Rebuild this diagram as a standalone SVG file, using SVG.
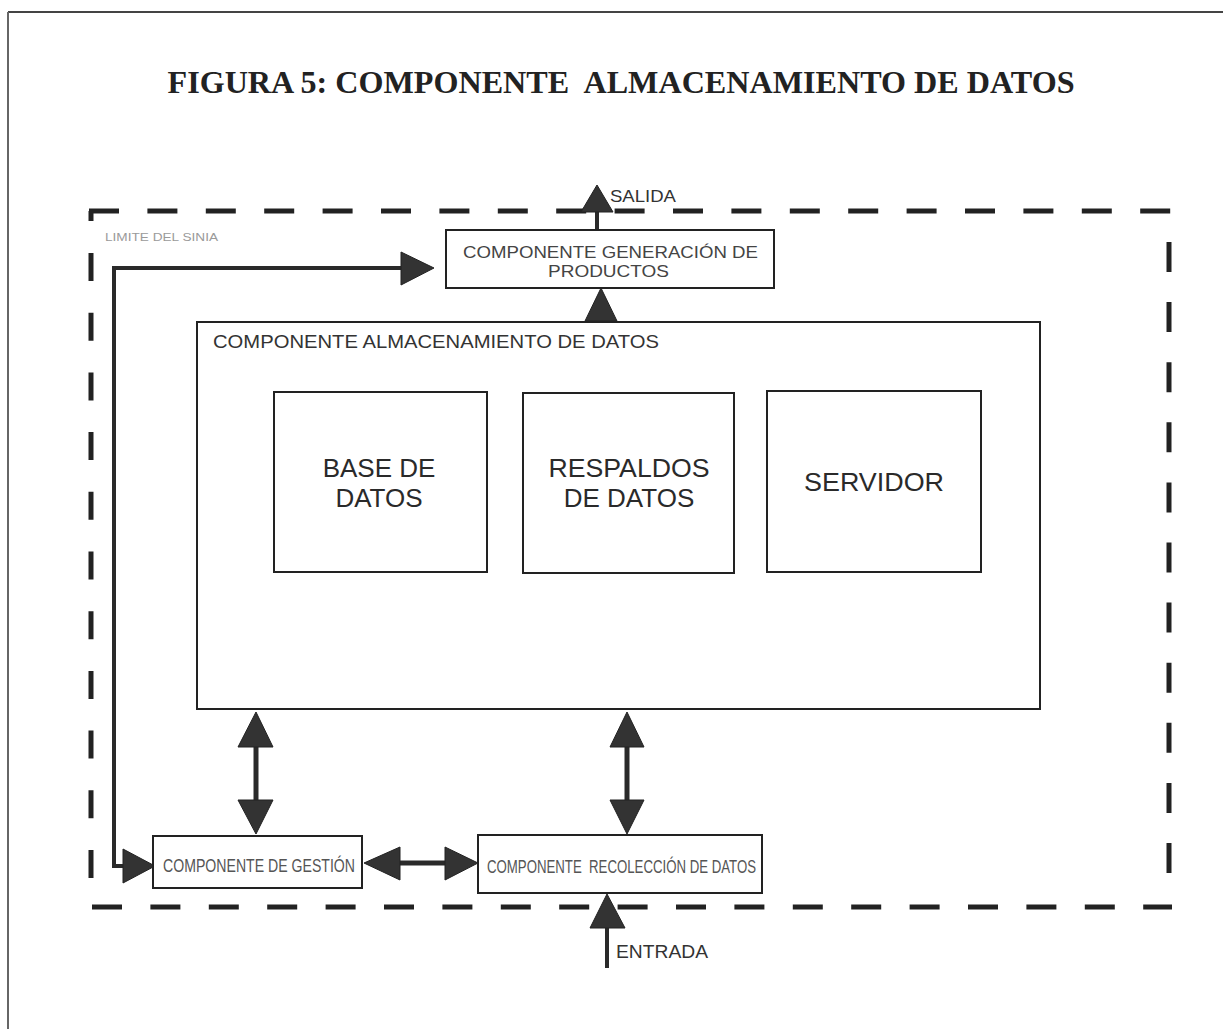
<svg xmlns="http://www.w3.org/2000/svg" width="1223" height="1029" viewBox="0 0 1223 1029">
<style>
.box{fill:#fff;stroke:#222;stroke-width:2}
.lbl{font-family:"Liberation Sans",Arial,sans-serif;fill:#333}
.big{font-family:"Liberation Sans",Arial,sans-serif;fill:#2a2a2a;font-size:26px;text-anchor:middle}
.dash{fill:none;stroke:#222;stroke-width:5}
.wire{fill:none;stroke:#2a2a2a}
.head{fill:#333;stroke:#222;stroke-width:1}
</style>
<rect width="1223" height="1029" fill="#fff"/>
<g id="frame">
<line x1="8" y1="12" x2="1223" y2="12" stroke="#444" stroke-width="2"/>
<line x1="8" y1="12" x2="8" y2="1029" stroke="#666" stroke-width="2"/>
</g>
<text x="621" y="93" text-anchor="middle" font-family="'Liberation Serif','Times New Roman',serif" font-weight="bold" font-size="32" fill="#222" textLength="907" lengthAdjust="spacingAndGlyphs" xml:space="preserve">FIGURA 5: COMPONENTE  ALMACENAMIENTO DE DATOS</text>
<g id="limite">
<path class="dash" d="M89,211 H1172" stroke-dasharray="30 28.4"/>
<path class="dash" d="M91,211 V221"/>
<path class="dash" d="M92,907 H1172" stroke-dasharray="30 28.4"/>
<path class="dash" d="M91,253 V880" stroke-dasharray="28 31.7"/>
<path class="dash" d="M1169,242 V874" stroke-dasharray="30 30.1"/>
<text class="lbl" x="105" y="241" font-size="10" fill="#999" style="fill:#9a9a9a" textLength="113" lengthAdjust="spacingAndGlyphs">LIMITE DEL SINIA</text>
</g>
<g id="connectors">
<line class="wire" x1="597" y1="210" x2="597" y2="231" stroke-width="4"/>
<polygon class="head" points="581,212 597,185 613,212"/>
<polygon class="head" points="585,321 601,288 617,321"/>
<polyline class="wire" points="125,866 114,866 114,268 403,268" stroke-width="4"/>
<polygon class="head" points="401,252 434,268 401,285"/>
<polygon class="head" points="123,849 155,866 123,883"/>
<line class="wire" x1="398" y1="863" x2="447" y2="863" stroke-width="5"/>
<polygon class="head" points="400,847 364,863 400,880"/>
<polygon class="head" points="445,847 478,863 445,880"/>
<line class="wire" x1="256" y1="745" x2="256" y2="802" stroke-width="5"/>
<polygon class="head" points="238,747 256,712 273,747"/>
<polygon class="head" points="238,800 256,834 273,800"/>
<line class="wire" x1="627" y1="745" x2="627" y2="802" stroke-width="5"/>
<polygon class="head" points="610,747 627,712 644,747"/>
<polygon class="head" points="610,800 627,834 644,800"/>
<line class="wire" x1="607" y1="926" x2="607" y2="968" stroke-width="4"/>
<polygon class="head" points="590,928 607,894 625,928"/>
<text class="lbl" x="610" y="202" font-size="17" textLength="66" lengthAdjust="spacingAndGlyphs">SALIDA</text>
<text class="lbl" x="616" y="958" font-size="18" textLength="92" lengthAdjust="spacingAndGlyphs">ENTRADA</text>
</g>
<g id="generacion">
<rect class="box" x="446" y="230" width="328" height="58"/>
<text class="lbl" x="610.5" y="258" font-size="17" text-anchor="middle" textLength="295" lengthAdjust="spacingAndGlyphs" style="fill:#444">COMPONENTE GENERACIÓN DE</text>
<text class="lbl" x="608.5" y="277" font-size="17" text-anchor="middle" textLength="121" lengthAdjust="spacingAndGlyphs" style="fill:#444">PRODUCTOS</text>
</g>
<g id="almacenamiento">
<rect class="box" x="197" y="322" width="843" height="387"/>
<text class="lbl" x="213" y="348" font-size="18" textLength="446" lengthAdjust="spacingAndGlyphs">COMPONENTE ALMACENAMIENTO DE DATOS</text>
</g>
<g id="base-datos">
<rect class="box" x="274" y="392" width="213" height="180"/>
<text class="big" x="379" y="477">BASE DE</text>
<text class="big" x="379" y="507">DATOS</text>
</g>
<g id="respaldos">
<rect class="box" x="523" y="393" width="211" height="180"/>
<text class="big" x="629" y="477" textLength="161" lengthAdjust="spacingAndGlyphs">RESPALDOS</text>
<text class="big" x="629" y="507">DE DATOS</text>
</g>
<g id="servidor">
<rect class="box" x="767" y="391" width="214" height="181"/>
<text class="big" x="874" y="491" textLength="140" lengthAdjust="spacingAndGlyphs">SERVIDOR</text>
</g>
<g id="gestion">
<rect class="box" x="153" y="836" width="209" height="52"/>
<text class="lbl" x="163" y="872" font-size="18" textLength="192" lengthAdjust="spacingAndGlyphs" style="fill:#555">COMPONENTE DE GESTIÓN</text>
</g>
<g id="recoleccion">
<rect class="box" x="478" y="835" width="284" height="58"/>
<text class="lbl" x="487" y="873" font-size="18" textLength="269" lengthAdjust="spacingAndGlyphs" xml:space="preserve" style="fill:#555">COMPONENTE  RECOLECCIÓN DE DATOS</text>
</g>
</svg>
